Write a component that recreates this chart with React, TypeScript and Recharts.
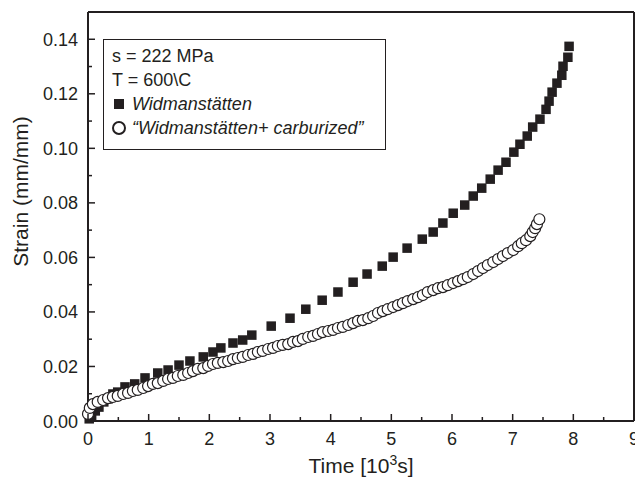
import { ScatterChart, Scatter, XAxis, YAxis, Legend } from "recharts";

// Widmanstätten (filled squares)
const squareTime = [
  0.02, 0.06, 0.12, 0.18, 0.26, 0.33, 0.41, 0.49, 0.61, 0.77, 0.94, 1.15, 1.32,
  1.5, 1.68, 1.9, 2.06, 2.19, 2.39, 2.55, 2.7, 3.02, 3.33, 3.59, 3.86, 4.12,
  4.37, 4.6, 4.85, 5.03, 5.26, 5.51, 5.69, 5.85, 6.02, 6.21, 6.35, 6.49, 6.63,
  6.76, 6.89, 7.02, 7.12, 7.24, 7.33, 7.45, 7.55, 7.6, 7.65, 7.73, 7.81, 7.83,
  7.91, 7.93,
];
const squareStrain = [
  0.0008, 0.002, 0.0037, 0.0051, 0.007, 0.0081, 0.0099, 0.0106, 0.0125, 0.0136,
  0.0158, 0.0176, 0.0187, 0.0205, 0.022, 0.0235, 0.0253, 0.0268, 0.0286,
  0.0297, 0.0315, 0.0348, 0.0377, 0.041, 0.0443, 0.0473, 0.0509, 0.0539,
  0.0568, 0.0601, 0.0634, 0.0667, 0.0693, 0.0726, 0.0762, 0.0792, 0.0825,
  0.0854, 0.0887, 0.092, 0.0949, 0.0986, 0.1015, 0.1045, 0.1078, 0.1107,
  0.1143, 0.1173, 0.1206, 0.1239, 0.1268, 0.1301, 0.1334, 0.1374,
];

// "Widmanstätten+ carburized" (open circles)
const circleTime = [
  0.0, 0.03, 0.08, 0.16, 0.25, 0.33, 0.41, 0.49, 0.58, 0.66, 0.74, 0.82, 0.91,
  0.99, 1.07, 1.15, 1.24, 1.32, 1.4, 1.48, 1.57, 1.65, 1.73, 1.81, 1.9, 1.98,
  2.06, 2.14, 2.23, 2.31, 2.39, 2.47, 2.55, 2.64, 2.72, 2.8, 2.88, 2.97, 3.05,
  3.13, 3.21, 3.3, 3.38, 3.46, 3.54, 3.63, 3.71, 3.79, 3.87, 3.96, 4.04, 4.12,
  4.2, 4.29, 4.37, 4.45, 4.53, 4.62, 4.7, 4.78, 4.86, 4.94, 5.03, 5.11, 5.19,
  5.27, 5.36, 5.44, 5.52, 5.6, 5.69, 5.77, 5.85, 5.93, 6.02, 6.1, 6.18, 6.26,
  6.35, 6.43, 6.51, 6.59, 6.68, 6.76, 6.84, 6.92, 7.01, 7.09, 7.15, 7.22, 7.29,
  7.33, 7.37, 7.4, 7.44,
];
const circleStrain = [
  0.0026, 0.0048, 0.0062, 0.007, 0.0077, 0.0084, 0.0088, 0.0092, 0.0099,
  0.0103, 0.011, 0.0114, 0.0121, 0.0128, 0.0136, 0.0139, 0.0147, 0.0154,
  0.0158, 0.0165, 0.0169, 0.0176, 0.0183, 0.0191, 0.0194, 0.0202, 0.0209,
  0.0213, 0.0216, 0.022, 0.0227, 0.0231, 0.0235, 0.0242, 0.0246, 0.0253,
  0.0257, 0.0264, 0.0268, 0.0275, 0.0279, 0.0282, 0.029, 0.0293, 0.0301,
  0.0308, 0.0312, 0.0319, 0.0326, 0.033, 0.0334, 0.0341, 0.0345, 0.0352,
  0.0359, 0.0367, 0.037, 0.0377, 0.0385, 0.0396, 0.0403, 0.041, 0.0418,
  0.0425, 0.0432, 0.044, 0.0447, 0.0454, 0.0462, 0.0473, 0.048, 0.0487,
  0.0491, 0.0498, 0.0506, 0.0513, 0.052, 0.0528, 0.0539, 0.055, 0.0561,
  0.0572, 0.0583, 0.0594, 0.0605, 0.0616, 0.0627, 0.0641, 0.0652, 0.0663,
  0.0678, 0.0693, 0.0707, 0.0722, 0.074,
];

// tick positions (minor + major)
const xTicks = [
  0, 0.5, 1, 1.5, 2, 2.5, 3, 3.5, 4, 4.5, 5, 5.5, 6, 6.5, 7, 7.5, 8, 8.5, 9,
];
const yTicks = [
  0, 0.01, 0.02, 0.03, 0.04, 0.05, 0.06, 0.07, 0.08, 0.09, 0.1, 0.11, 0.12,
  0.13, 0.14, 0.15,
];

const squareData = squareTime.map((t, i) => ({ t, s: squareStrain[i] }));
const circleData = circleTime.map((t, i) => ({ t, s: circleStrain[i] }));

const INK = "#231f20";
const FONT = "'Liberation Sans', Arial, Helvetica, sans-serif";

const isMajorX = (v: number) => Number.isInteger(v);
const isMajorY = (v: number) => Math.round(v * 100) % 2 === 0;

function BottomTick(p: any) {
  const v = p.payload.value;
  const major = isMajorX(v);
  return (
    <g>
      <line x1={p.x} x2={p.x} y1={p.y} y2={p.y - (major ? 7 : 4)} stroke={INK} strokeWidth={1.5} />
      {major && (
        <text x={p.x} y={p.y + 24} textAnchor="middle" fontSize={18} fontFamily={FONT} fill={INK}>
          {v}
        </text>
      )}
    </g>
  );
}

function TopTick(p: any) {
  const major = isMajorX(p.payload.value);
  return <line x1={p.x} x2={p.x} y1={p.y} y2={p.y + (major ? 7 : 4)} stroke={INK} strokeWidth={1.5} />;
}

function LeftTick(p: any) {
  const v = p.payload.value;
  if (v > 0.145) return <g />;
  const major = isMajorY(v);
  return (
    <g>
      <line x1={p.x} x2={p.x + (major ? 7 : 4)} y1={p.y} y2={p.y} stroke={INK} strokeWidth={1.5} />
      {major && (
        <text x={p.x - 10} y={p.y + 6.5} textAnchor="end" fontSize={18} fontFamily={FONT} fill={INK}>
          {v.toFixed(2)}
        </text>
      )}
    </g>
  );
}

function RightTick(p: any) {
  const v = p.payload.value;
  if (v > 0.145) return <g />;
  const major = isMajorY(v);
  return <line x1={p.x} x2={p.x - (major ? 7 : 4)} y1={p.y} y2={p.y} stroke={INK} strokeWidth={1.5} />;
}

const SquareMark = (p: any) => (
  <rect x={p.cx - 4.75} y={p.cy - 4.75} width={9.5} height={9.5} fill={INK} />
);
const CircleMark = (p: any) => (
  <circle cx={p.cx} cy={p.cy} r={5.5} fill="#fff" stroke={INK} strokeWidth={1.2} />
);

function LegendBox() {
  const line = { height: 24, display: "flex", alignItems: "center", whiteSpace: "nowrap" as const };
  return (
    <div
      style={{
        border: `1px solid ${INK}`,
        background: "#fff",
        padding: "4px 8px 9px 8px",
        fontFamily: FONT,
        fontSize: 18,
        color: INK,
        width: 265,
      }}
    >
      <div style={line}>s = 222 MPa</div>
      <div style={line}>T = 600\C</div>
      <div style={line}>
        <svg width={20} height={14}>
          <rect x={2} y={2} width={10} height={10} fill={INK} />
        </svg>
        <i>Widmanstätten</i>
      </div>
      <div style={line}>
        <svg width={20} height={16}>
          <circle cx={7} cy={8} r={6} fill="#fff" stroke={INK} strokeWidth={2} />
        </svg>
        <i>“Widmanstätten+ carburized”</i>
      </div>
    </div>
  );
}

export default function App() {
  return (
    <div style={{ position: "absolute", left: 0, top: 0 }}>
      <ScatterChart width={635} height={477} margin={{ top: 11, right: 0, bottom: 0, left: 0 }}>
        <XAxis
          type="number"
          dataKey="t"
          domain={[0, 9]}
          ticks={xTicks}
          interval={0}
          tickSize={0}
          tickMargin={0}
          height={56}
          stroke={INK}
          strokeWidth={2}
          tick={(p: any) => <BottomTick {...p} />}
          label={{
            content: (lp: any) => {
              const vb = lp.viewBox;
              return (
                <text x={vb.x + vb.width / 2} y={vb.y + 52} textAnchor="middle" fontSize={21} fontFamily={FONT} fill={INK}>
                  <tspan>Time [10</tspan>
                  <tspan dy={-8} fontSize={14}>3</tspan>
                  <tspan dy={8}>s]</tspan>
                </text>
              );
            },
          }}
        />
        <XAxis
          xAxisId="top"
          orientation="top"
          type="number"
          dataKey="t"
          domain={[0, 9]}
          ticks={xTicks}
          interval={0}
          tickSize={0}
          tickMargin={0}
          height={1}
          stroke={INK}
          strokeWidth={2}
          tick={(p: any) => <TopTick {...p} />}
        />
        <YAxis
          type="number"
          dataKey="s"
          domain={[0, 0.15]}
          ticks={yTicks}
          interval={0}
          tickSize={0}
          tickMargin={0}
          width={88}
          stroke={INK}
          strokeWidth={2}
          tick={(p: any) => <LeftTick {...p} />}
          label={{
            content: (lp: any) => {
              const vb = lp.viewBox;
              const cx = vb.x + 21;
              const cy = vb.y + vb.height / 2 - 25;
              return (
                <text
                  x={cx}
                  y={cy}
                  transform={`rotate(-90 ${cx} ${cy})`}
                  textAnchor="middle"
                  dy={7}
                  fontSize={21}
                  fontFamily={FONT}
                  fill={INK}
                >
                  Strain (mm/mm)
                </text>
              );
            },
          }}
        />
        <YAxis
          yAxisId="right"
          orientation="right"
          type="number"
          dataKey="s"
          domain={[0, 0.15]}
          ticks={yTicks}
          interval={0}
          tickSize={0}
          tickMargin={0}
          width={1}
          stroke={INK}
          strokeWidth={2}
          tick={(p: any) => <RightTick {...p} />}
        />
        <Legend
          layout="horizontal"
          verticalAlign="middle"
          align="center"
          content={() => <LegendBox />}
          wrapperStyle={{ position: "absolute", left: 103, top: 39, width: "auto" }}
        />
        <Scatter
          name="Widmanstätten"
          data={squareData}
          shape={SquareMark}
          isAnimationActive={false}
        />
        <Scatter
          name="Widmanstätten+ carburized"
          data={circleData}
          shape={CircleMark}
          isAnimationActive={false}
        />
      </ScatterChart>
    </div>
  );
}
